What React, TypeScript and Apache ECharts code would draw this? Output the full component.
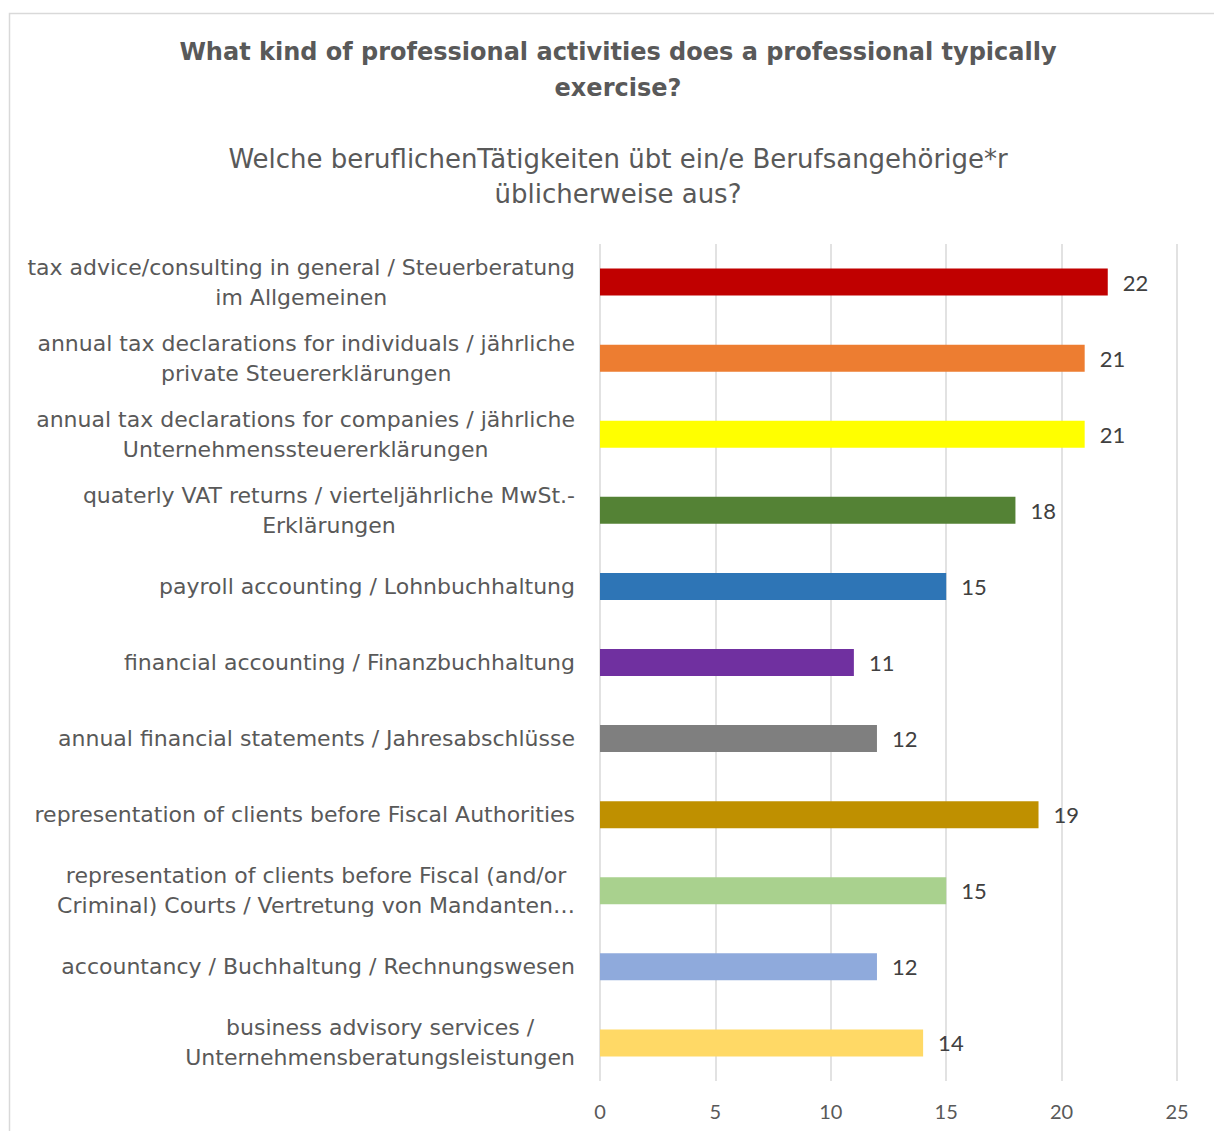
import React, { useEffect, useRef } from "react";
import * as echarts from "echarts";

const titleLines = ["What kind of professional activities does a professional typically", "exercise?"];
const subtitleLines = ["Welche beruflichenTätigkeiten übt ein/e Berufsangehörige*r", "üblicherweise aus?"];

const categories = [
  "tax advice/consulting in general / Steuerberatung\nim Allgemeinen",
  "annual tax declarations for individuals / jährliche\nprivate Steuererklärungen",
  "annual tax declarations for companies / jährliche\nUnternehmenssteuererklärungen",
  "quaterly VAT returns / vierteljährliche MwSt.-\nErklärungen",
  "payroll accounting / Lohnbuchhaltung",
  "financial accounting / Finanzbuchhaltung",
  "annual financial statements / Jahresabschlüsse",
  "representation of clients before Fiscal Authorities",
  "representation of clients before Fiscal (and/or\nCriminal) Courts / Vertretung von Mandanten…",
  "accountancy / Buchhaltung / Rechnungswesen",
  "business advisory services /\nUnternehmensberatungsleistungen",
];

const values = [22, 21, 21, 18, 15, 11, 12, 19, 15, 12, 14];

const barColors = [
  "#C00000",
  "#ED7D31",
  "#FFFF00",
  "#548235",
  "#2E75B6",
  "#7030A0",
  "#7F7F7F",
  "#BF9000",
  "#A9D18E",
  "#8FAADC",
  "#FFD966",
];

const axisMin = 0;
const axisMax = 25;
const axisInterval = 5;

const SANS = "DejaVu Sans";
const NUM = "Lato";

export default function App() {
  const ref = useRef<HTMLDivElement>(null);

  useEffect(() => {
    if (!ref.current) return;
    const chart = echarts.init(ref.current, null, { renderer: "svg" });
    chart.setOption({
      animation: false,
      backgroundColor: "#FFFFFF",
      graphic: [
        {
          type: "rect",
          shape: { x: 9.5, y: 13.5, width: 1220, height: 1130 },
          style: { fill: "none", stroke: "#D9D9D9", lineWidth: 1.5 },
          silent: true,
        },
      ],
      title: [
        {
          text: titleLines.join("\n"),
          left: 613,
          top: 29,
          textAlign: "center",
          textStyle: {
            fontFamily: SANS,
            fontSize: 24,
            fontWeight: "bold",
            color: "#595959",
            lineHeight: 36,
          },
        },
        {
          text: subtitleLines.join("\n"),
          left: 613,
          top: 136,
          textAlign: "center",
          textStyle: {
            fontFamily: SANS,
            fontSize: 26,
            fontWeight: "normal",
            color: "#595959",
            lineHeight: 35,
          },
        },
      ],
      grid: { left: 600, right: 37, top: 244, bottom: 50, containLabel: false },
      xAxis: {
        type: "value",
        min: axisMin,
        max: axisMax,
        interval: axisInterval,
        axisLine: { show: false },
        axisTick: { show: false },
        splitLine: { show: true, lineStyle: { color: "#D9D9D9", width: 1.5 } },
        axisLabel: {
          margin: 20,
          fontFamily: NUM,
          fontSize: 20,
          color: "#595959",
        },
      },
      yAxis: {
        type: "category",
        data: categories,
        inverse: true,
        axisLine: { show: false },
        axisTick: { show: false },
        axisLabel: {
          margin: 25,
          align: "right",
          formatter: (v: string) => `{c|${v}}`,
          rich: {
            c: {
              align: "center",
              fontFamily: SANS,
              fontSize: 22,
              lineHeight: 30,
              color: "#595959",
            },
          },
        },
      },
      series: [
        {
          type: "bar",
          barWidth: 27,
          data: values.map((v, i) => ({ value: v, itemStyle: { color: barColors[i] } })),
          label: {
            show: true,
            position: "right",
            distance: 15,
            fontFamily: NUM,
            fontSize: 22,
            color: "#404040",
          },
        },
      ],
    });
    return () => chart.dispose();
  }, []);

  return (
    <div
      ref={ref}
      style={{ position: "absolute", left: 0, top: 0, width: 1214, height: 1131 }}
    />
  );
}
